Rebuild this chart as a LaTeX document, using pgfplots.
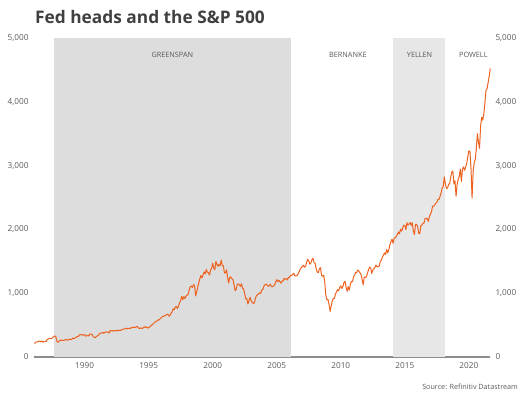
\documentclass[border=0pt]{standalone}
\usepackage{pgfplots}
\usepackage{pgfplotstable}
\pgfplotsset{compat=1.18}
\usepackage{fontspec}
\setmainfont{Open Sans}
\newfontfamily\tickfont{Open Sans}
\definecolor{spx}{RGB}{236,98,30}
\definecolor{gshade}{RGB}{221,221,221}
\definecolor{yshade}{RGB}{231,231,231}
\definecolor{txtgray}{RGB}{90,90,90}
\definecolor{titlegray}{RGB}{64,64,64}

\pgfplotstableread{
yr mo v
1986 1 211.8
1986 2 226.9
1986 3 238.9
1986 4 235.5
1986 5 247.4
1986 6 250.8
1986 7 236.1
1986 8 252.9
1986 9 231.3
1986 10 243.9
1986 11 249.2
1986 12 242.2
1987 1 274.1
1987 2 284.2
1987 3 291.7
1987 4 288.4
1987 5 290.1
1987 6 304.0
1987 7 318.7
1987 8 329.8
1987 9 321.8
1987 10 251.8
1987 11 230.3
1987 12 247.1
1988 1 257.1
1988 2 267.8
1988 3 258.9
1988 4 261.3
1988 5 262.2
1988 6 273.5
1988 7 272.0
1988 8 261.5
1988 9 271.9
1988 10 279.0
1988 11 273.7
1988 12 277.7
1989 1 297.5
1989 2 288.9
1989 3 294.9
1989 4 309.6
1989 5 320.5
1989 6 318.0
1989 7 346.1
1989 8 351.5
1989 9 349.2
1989 10 340.4
1989 11 346.0
1989 12 353.4
1990 1 329.1
1990 2 331.9
1990 3 339.9
1990 4 330.8
1990 5 361.2
1990 6 358.0
1990 7 356.2
1990 8 322.6
1990 9 306.1
1990 10 304.0
1990 11 322.2
1990 12 330.2
1991 1 343.9
1991 2 367.1
1991 3 375.2
1991 4 375.3
1991 5 389.8
1991 6 371.2
1991 7 387.8
1991 8 395.4
1991 9 387.9
1991 10 392.5
1991 11 375.2
1991 12 417.1
1992 1 408.8
1992 2 412.7
1992 3 403.7
1992 4 415.0
1992 5 415.4
1992 6 408.1
1992 7 424.2
1992 8 414.0
1992 9 417.8
1992 10 418.7
1992 11 431.4
1992 12 435.7
1993 1 438.8
1993 2 443.4
1993 3 451.7
1993 4 440.2
1993 5 450.2
1993 6 450.5
1993 7 448.1
1993 8 463.6
1993 9 458.9
1993 10 467.8
1993 11 461.8
1993 12 466.5
1994 1 481.6
1994 2 467.1
1994 3 445.8
1994 4 450.9
1994 5 456.5
1994 6 444.3
1994 7 458.3
1994 8 475.5
1994 9 462.7
1994 10 472.4
1994 11 453.7
1994 12 459.3
1995 1 470.4
1995 2 487.4
1995 3 500.7
1995 4 514.7
1995 5 533.4
1995 6 544.8
1995 7 562.1
1995 8 561.9
1995 9 584.4
1995 10 581.5
1995 11 605.4
1995 12 615.9
1996 1 636.0
1996 2 640.4
1996 3 645.5
1996 4 654.2
1996 5 669.1
1996 6 670.6
1996 7 639.9
1996 8 652.0
1996 9 687.3
1996 10 705.3
1996 11 757.0
1996 12 740.7
1997 1 786.2
1997 2 790.8
1997 3 757.1
1997 4 801.3
1997 5 848.3
1997 6 885.1
1997 7 954.3
1997 8 899.5
1997 9 947.3
1997 10 914.6
1997 11 955.4
1997 12 970.4
1998 1 980.3
1998 2 1049.3
1998 3 1101.8
1998 4 1111.8
1998 5 1090.8
1998 6 1133.8
1998 7 1120.7
1998 8 957.3
1998 9 1017.0
1998 10 1098.7
1998 11 1163.6
1998 12 1229.2
1999 1 1279.6
1999 2 1238.3
1999 3 1286.4
1999 4 1335.2
1999 5 1301.8
1999 6 1372.7
1999 7 1328.7
1999 8 1320.4
1999 9 1282.7
1999 10 1362.9
1999 11 1389.0
1999 12 1469.3
2000 1 1394.5
2000 2 1366.4
2000 3 1498.6
2000 4 1452.4
2000 5 1420.6
2000 6 1454.6
2000 7 1430.8
2000 8 1517.7
2000 9 1436.5
2000 10 1429.4
2000 11 1315.2
2000 12 1320.3
2001 1 1366.0
2001 2 1239.9
2001 3 1160.3
2001 4 1249.5
2001 5 1255.8
2001 6 1224.4
2001 7 1211.2
2001 8 1133.6
2001 9 1040.9
2001 10 1059.8
2001 11 1139.5
2001 12 1148.1
2002 1 1130.2
2002 2 1106.7
2002 3 1147.4
2002 4 1076.9
2002 5 1067.1
2002 6 989.8
2002 7 911.6
2002 8 916.1
2002 9 830.0
2002 10 885.8
2002 11 936.3
2002 12 879.8
2003 1 855.7
2003 2 841.2
2003 3 848.2
2003 4 916.9
2003 5 963.6
2003 6 974.5
2003 7 990.3
2003 8 1008.0
2003 9 996.0
2003 10 1050.7
2003 11 1058.2
2003 12 1111.9
2004 1 1131.1
2004 2 1144.9
2004 3 1126.2
2004 4 1107.3
2004 5 1120.7
2004 6 1140.8
2004 7 1101.7
2004 8 1104.2
2004 9 1114.6
2004 10 1130.2
2004 11 1173.8
2004 12 1211.9
2005 1 1181.3
2005 2 1203.6
2005 3 1180.6
2005 4 1156.9
2005 5 1191.5
2005 6 1191.3
2005 7 1234.2
2005 8 1220.3
2005 9 1228.8
2005 10 1207.0
2005 11 1249.5
2005 12 1248.3
2006 1 1280.1
2006 2 1280.7
2006 3 1294.9
2006 4 1310.6
2006 5 1270.1
2006 6 1270.2
2006 7 1276.7
2006 8 1303.8
2006 9 1335.9
2006 10 1377.9
2006 11 1400.6
2006 12 1418.3
2007 1 1438.2
2007 2 1406.8
2007 3 1420.9
2007 4 1482.4
2007 5 1530.6
2007 6 1503.4
2007 7 1455.3
2007 8 1474.0
2007 9 1526.8
2007 10 1549.4
2007 11 1481.1
2007 12 1468.4
2008 1 1378.6
2008 2 1330.6
2008 3 1322.7
2008 4 1385.6
2008 5 1400.4
2008 6 1280.0
2008 7 1267.4
2008 8 1282.8
2008 9 1166.4
2008 10 968.8
2008 11 896.2
2008 12 903.3
2009 1 825.9
2009 2 715.0
2009 3 797.9
2009 4 872.8
2009 5 919.1
2009 6 919.3
2009 7 987.5
2009 8 1020.6
2009 9 1057.1
2009 10 1036.2
2009 11 1095.6
2009 12 1115.1
2010 1 1073.9
2010 2 1104.5
2010 3 1169.4
2010 4 1186.7
2010 5 1089.4
2010 6 1030.7
2010 7 1101.6
2010 8 1049.3
2010 9 1141.2
2010 10 1183.3
2010 11 1180.6
2010 12 1257.6
2011 1 1286.1
2011 2 1327.2
2011 3 1325.8
2011 4 1363.6
2011 5 1345.2
2011 6 1320.6
2011 7 1292.3
2011 8 1218.9
2011 9 1131.4
2011 10 1253.3
2011 11 1247.0
2011 12 1257.6
2012 1 1312.4
2012 2 1365.7
2012 3 1408.5
2012 4 1397.9
2012 5 1310.3
2012 6 1362.2
2012 7 1379.3
2012 8 1406.6
2012 9 1440.7
2012 10 1412.2
2012 11 1416.2
2012 12 1426.2
2013 1 1498.1
2013 2 1514.7
2013 3 1569.2
2013 4 1597.6
2013 5 1630.7
2013 6 1606.3
2013 7 1685.7
2013 8 1633.0
2013 9 1681.6
2013 10 1756.5
2013 11 1805.8
2013 12 1848.4
2014 1 1782.6
2014 2 1859.5
2014 3 1872.3
2014 4 1884.0
2014 5 1923.6
2014 6 1960.2
2014 7 1930.7
2014 8 2003.4
2014 9 1972.3
2014 10 2018.1
2014 11 2067.6
2014 12 2058.9
2015 1 1995.0
2015 2 2104.5
2015 3 2067.9
2015 4 2085.5
2015 5 2107.4
2015 6 2063.1
2015 7 2103.8
2015 8 1972.2
2015 9 1920.0
2015 10 2079.4
2015 11 2080.4
2015 12 2043.9
2016 1 1940.2
2016 2 1932.2
2016 3 2059.7
2016 4 2065.3
2016 5 2097.0
2016 6 2098.9
2016 7 2173.6
2016 8 2171.0
2016 9 2168.3
2016 10 2126.2
2016 11 2198.8
2016 12 2238.8
2017 1 2278.9
2017 2 2363.6
2017 3 2362.7
2017 4 2384.2
2017 5 2411.8
2017 6 2423.4
2017 7 2470.3
2017 8 2471.7
2017 9 2519.4
2017 10 2575.3
2017 11 2647.6
2017 12 2673.6
2018 1 2823.8
2018 2 2713.8
2018 3 2640.9
2018 4 2648.1
2018 5 2705.3
2018 6 2718.4
2018 7 2816.3
2018 8 2901.5
2018 9 2914.0
2018 10 2711.7
2018 11 2760.2
2018 12 2520.0
2019 1 2704.1
2019 2 2784.5
2019 3 2834.4
2019 4 2945.8
2019 5 2752.1
2019 6 2941.8
2019 7 2980.4
2019 8 2926.5
2019 9 2976.7
2019 10 3037.6
2019 11 3141.0
2019 12 3230.8
2020 1 3225.5
2020 2 2954.2
2020 3 2490.0
2020 4 2912.4
2020 5 3044.3
2020 6 3100.3
2020 7 3271.1
2020 8 3500.3
2020 9 3363.0
2020 10 3270.0
2020 11 3621.6
2020 12 3756.1
2021 1 3714.2
2021 2 3811.2
2021 3 3972.9
2021 4 4181.2
2021 5 4204.1
2021 6 4297.5
2021 7 4395.3
2021 8 4522.7
}\spx

\begin{document}
\begin{tikzpicture}
\path[use as bounding box] (-34pt,-35pt) rectangle (490pt,357pt);
\begin{axis}[
  at={(0pt,0pt)}, anchor=south west,
  scale only axis, width=456pt, height=319pt,
  xmin=1986.05, xmax=2021.65, ymin=0, ymax=5000,
  axis x line*=bottom, axis y line*=left,
  y axis line style={draw=none},
  x axis line style={-, draw=black!45, line width=1.2pt},
  major tick length=0pt,
  xtick={1990,1995,2000,2005,2010,2015,2020},
  ytick={0,1000,2000,3000,4000,5000},
  /pgf/number format/assume math mode=true,
  x tick label style={/pgf/number format/1000 sep={}, yshift=-2pt},
  y tick label style={/pgf/number format/1000 sep={,}, xshift=-2pt},
  ticklabel style={font=\tickfont\fontsize{8.2}{9}\selectfont, text=txtgray},
  clip=false,
]
\addplot[fill=gshade, draw=none] coordinates {(1987.62,0) (1987.62,5000) (2006.08,5000) (2006.08,0)} -- cycle;
\addplot[fill=yshade, draw=none] coordinates {(2014.1,0) (2014.1,5000) (2018.1,5000) (2018.1,0)} -- cycle;
\addplot[spx, line width=1pt, line join=round] table[x expr={\thisrow{yr}+\thisrow{mo}/12}, y=v] {\spx};
\node[font=\fontsize{7.3}{8}\selectfont, text=txtgray] at (axis cs:1996.85,4730) {GREENSPAN};
\node[font=\fontsize{7.3}{8}\selectfont, text=txtgray] at (axis cs:2010.55,4730) {BERNANKE};
\node[font=\fontsize{7.3}{8}\selectfont, text=txtgray] at (axis cs:2016.15,4730) {YELLEN};
\node[font=\fontsize{7.3}{8}\selectfont, text=txtgray] at (axis cs:2020.35,4730) {POWELL};
\end{axis}
\begin{axis}[
  at={(0pt,0pt)}, anchor=south west,
  scale only axis, width=456pt, height=319pt,
  xmin=1986.05, xmax=2021.65, ymin=0, ymax=5000,
  hide x axis,
  axis y line*=right,
  y axis line style={draw=none},
  major tick length=0pt,
  ytick={0,1000,2000,3000,4000,5000},
  /pgf/number format/assume math mode=true,
  y tick label style={/pgf/number format/1000 sep={,}, xshift=2pt},
  ticklabel style={font=\tickfont\fontsize{8.2}{9}\selectfont, text=txtgray},
]
\end{axis}
\node[anchor=base west, font=\fontsize{17.3}{20}\selectfont\bfseries, text=titlegray, inner sep=0pt] at (1pt,333.5pt) {Fed heads and the S\&P 500};
\node[anchor=base east, font=\fontsize{7.2}{8}\selectfont, text=txtgray, inner sep=0pt] at (484pt,-32pt) {Source: Refinitiv Datastream};
\end{tikzpicture}
\end{document}
